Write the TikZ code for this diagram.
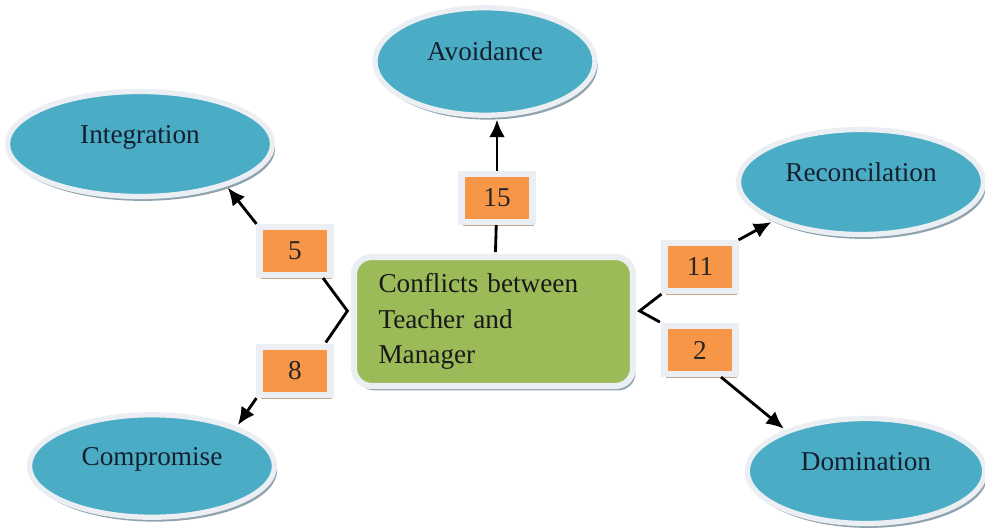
\documentclass[tikz,border=0pt]{standalone}
\usepackage{fontspec}
\setmainfont{Liberation Serif}
\usepackage{tikz}
\usetikzlibrary{arrows,arrows.meta,positioning,shapes.geometric,shadows}
\definecolor{ellblue}{HTML}{4BACC6}
\definecolor{boxgreen}{HTML}{9BBB59}
\definecolor{boxorange}{HTML}{F79646}
\definecolor{rimgray}{HTML}{EBEFF3}
\definecolor{shadowblue}{HTML}{8FA3AE}
\definecolor{shadowtan}{HTML}{C9A68C}
\definecolor{navytext}{HTML}{14202E}

\begin{document}
\begin{tikzpicture}[shorten >=1pt,on grid,
            font=\fontsize{15.5}{20}\selectfont,
            goal/.style={ellipse, fill=ellblue, draw=rimgray, line width=3pt,
                minimum height=2.1cm, text height=0.35cm, text depth=0.38cm, text=navytext,
                drop shadow={shadow xshift=1.5pt, shadow yshift=-2.5pt, fill=shadowblue, opacity=1}},
            numbox/.style={rectangle, fill=boxorange, draw=rimgray, line width=3.5pt,
                minimum width=1.42cm, minimum height=0.96cm, text=black!85,
                drop shadow={shadow xshift=1pt, shadow yshift=-2.5pt, fill=shadowtan, opacity=1}},
            conflictbox/.style={rectangle, rounded corners=10pt, fill=boxgreen, draw=rimgray, line width=3.5pt,
                minimum width=5.58cm, minimum height=2.58cm, text width=4.6cm, align=left, text=black!90,
                drop shadow={shadow xshift=1.5pt, shadow yshift=-2.5pt, fill=shadowblue, opacity=1}},
            wire/.style={line width=1.6pt},
            link/.style={line width=1.6pt, -{Latex[length=10pt,width=9pt]}}]
            \useasboundingbox (-9.87,-4.15) rectangle (9.83,6.43);

            \node[conflictbox]    (conflict) {Conflicts between\\ Teacher and\\ Manager};

            \node[numbox]    (n15) [above right=2.47cm and 0.07cm of conflict] {15};
            \node[numbox]    (n5) [above left=1.41cm and 3.97cm of conflict] {5};
            \node[numbox]    (n8) [below left=0.99cm and 3.97cm of conflict] {8};
            \node[numbox]    (n11) [above right=1.09cm and 4.13cm of conflict] {11};
            \node[numbox]    (n2) [below right=0.57cm and 4.13cm of conflict] {2};

            \node[goal, minimum width=4.4cm, minimum height=2.15cm]    (avoid) [above left=5.2cm and 0.17cm of conflict] {Avoidance};
            \node[goal, minimum width=5.3cm, minimum height=2.1cm]    (integ) [above left=3.55cm and 7.07cm of conflict] {Integration};
            \node[goal, minimum width=4.9cm]    (recon) [above right=2.79cm and 7.35cm of conflict] {Reconcilation};
            \node[goal, minimum width=4.9cm, minimum height=2.05cm]    (compro) [below left=2.89cm and 6.83cm of conflict] {Compromise};
            \node[goal, minimum width=4.75cm]    (domin) [below right=2.99cm and 7.45cm of conflict] {Domination};

            % the two forks sit a bit above the middle of the box
            \coordinate (lfork) at ([xshift=-2pt,yshift=6pt]conflict.west);
            \coordinate (rfork) at ([xshift=2pt,yshift=6pt]conflict.east);

            \draw[wire] (n15) -- (conflict);
            \draw[wire] ([xshift=-6pt]n5.south east) -- (lfork) -- ([xshift=-5pt]n8.north east);
            \draw[wire] (n11.south west) -- (rfork) -- (n2.north west);

            \path[link]
            (n15.north) edge (n15.north |- avoid.south)
            (n5.north west) edge (integ.-26)
            (n8.south west) edge (compro.25)
            (n11.north east) edge (recon.204)
            ([xshift=-10pt]n2.south east) edge (domin.153)
            ;
    \end{tikzpicture}
\end{document}
